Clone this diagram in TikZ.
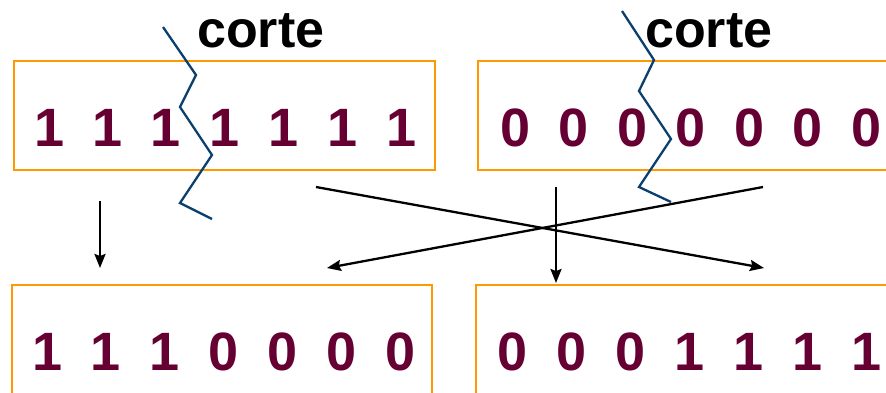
\documentclass[tikz,border=0pt]{standalone}
\usepackage{fontspec}
\setmainfont{Liberation Sans}
\usetikzlibrary{arrows.meta}
\definecolor{bitcol}{HTML}{660033}
\definecolor{boxcol}{HTML}{FF9900}
\definecolor{cutcol}{HTML}{0B3F6E}
\tikzset{
  chromo/.style={draw=boxcol, line width=2.5pt, inner sep=0pt, minimum height=109pt},
  bit/.style={anchor=base, inner sep=0pt, text=bitcol, font=\fontsize{54}{54}\selectfont\bfseries},
  cutlabel/.style={anchor=base west, inner sep=0pt, font=\fontsize{52}{52}\selectfont\bfseries},
  cutline/.style={draw=cutcol, line width=2.3pt, line join=miter},
  flow/.style={draw=black, line width=2.3pt, -{Stealth[length=14pt, width=11pt, inset=2pt]}},
}
\begin{document}
\begin{tikzpicture}[x=1pt, y=-1pt]
  \useasboundingbox (0,0) rectangle (886,392);
  \clip (0,0) rectangle (886,392);

  % parent chromosomes
  \node[chromo, minimum width=421pt] (p1) at (224.5,115.5) {};
  \node[chromo, minimum width=440pt] (p2) at (698,115.5) {};
  % offspring chromosomes
  \node[chromo, minimum width=420pt, minimum height=116pt] (c1) at (222,343) {};
  \node[chromo, minimum width=440pt, minimum height=116pt] (c2) at (696,343) {};

  % bits of the parents
  \foreach \x [count=\i] in {50,108,166,225,284,343,402}
    \node[bit] (pa\i) at (\x,146) {1};
  \foreach \x [count=\i] in {516,574,633,691,750,808,867}
    \node[bit] (pb\i) at (\x,146) {0};
  % bits of the offspring
  \foreach \x/\b [count=\i] in {48/1,106/1,165/1,224/0,283/0,342/0,401/0}
    \node[bit] (ca\i) at (\x,370) {\b};
  \foreach \x/\b [count=\i] in {513/0,572/0,631/0,690/1,749/1,808/1,867/1}
    \node[bit] (cb\i) at (\x,370) {\b};

  % cut labels
  \node[cutlabel] (lab1) at (197,47) {corte};
  \node[cutlabel] (lab2) at (645,47) {corte};

  % cut points
  \draw[cutline] (163,27) -- (196,75) -- (180,107) -- (212,155) -- (180,203) -- (212,219);
  \draw[cutline] (622,11) -- (654,60) -- (639,91) -- (671,139) -- (639,187) -- (671,202);

  % recombination arrows
  \coordinate (s1) at (100,201);  \coordinate (e1) at (100,268);
  \coordinate (s2) at (316,187);  \coordinate (e2) at (764,268);
  \coordinate (s3) at (763,187);  \coordinate (e3) at (327,268);
  \coordinate (s4) at (556,187);  \coordinate (e4) at (556,283);
  \draw[flow] (s1) -- (e1);
  \draw[flow] (s2) -- (e2);
  \draw[flow] (s3) -- (e3);
  \draw[flow] (s4) -- (e4);
\end{tikzpicture}
\end{document}
